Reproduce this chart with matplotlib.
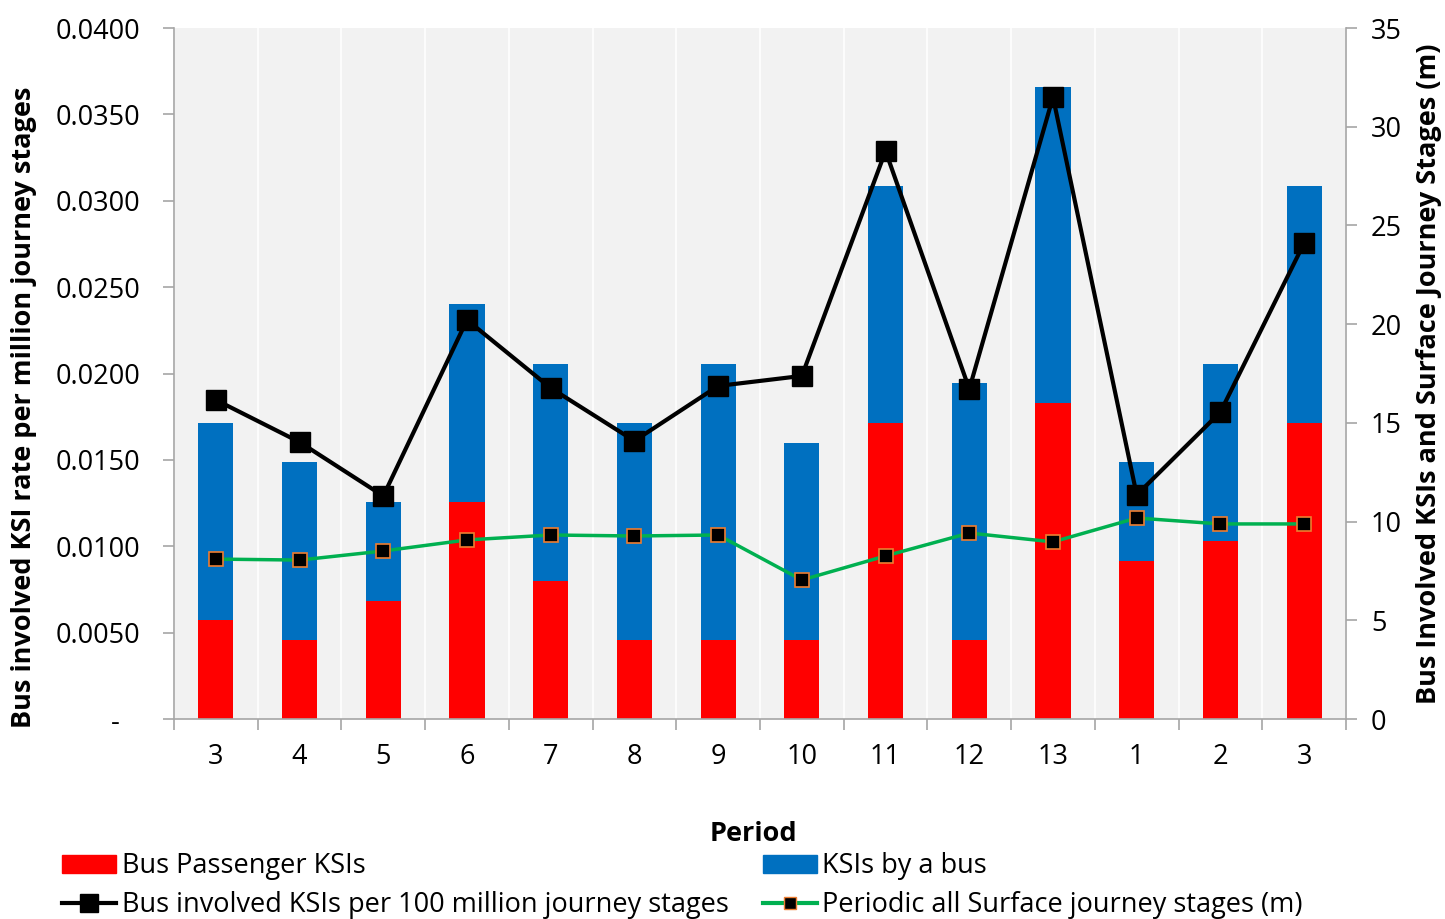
import matplotlib
matplotlib.use("Agg")
import matplotlib.pyplot as plt
import numpy as np
from matplotlib.ticker import FixedLocator, FuncFormatter
from matplotlib.lines import Line2D
from matplotlib.patches import Patch

plt.rcParams['font.family'] = ['Open Sans', 'DejaVu Sans']

periods = ['3', '4', '5', '6', '7', '8', '9', '10', '11', '12', '13', '1', '2', '3']
bus_passenger = [5, 4, 6, 11, 7, 4, 4, 4, 15, 4, 16, 8, 9, 15]
ksis_by_bus = [10, 9, 5, 10, 11, 11, 14, 10, 12, 13, 16, 5, 9, 12]
rate = [0.01847, 0.01603, 0.01291, 0.0231, 0.01916, 0.0161, 0.01928, 0.01986,
        0.03288, 0.0191, 0.0360, 0.01297, 0.01777, 0.02755]
journeys = [8.1, 8.05, 8.51, 9.07, 9.32, 9.27, 9.32, 7.04, 8.26, 9.42, 8.97,
            10.18, 9.88, 9.88]

RED = '#FF0000'
BLUE = '#0070C0'
GREEN = '#00B050'
ORANGE = '#ED7D31'
SPINE = '#A6A6A6'
FS = 19.5

fig = plt.figure(figsize=(14.45, 9.19), dpi=100)
ax = fig.add_axes([174/1445, 1 - 719/919, (1346 - 174)/1445, (719 - 28)/919])
ax.set_facecolor('#F2F2F2')
ax2 = ax.twinx()

x = np.arange(len(periods))
w = 0.42
ax.bar(x, bus_passenger, w, color=RED, zorder=2)
ax.bar(x, ksis_by_bus, w, bottom=bus_passenger, color=BLUE, zorder=2)
ax.plot(x, journeys, color=GREEN, lw=2.5, marker='s', ms=9.5,
        mfc='black', mec=ORANGE, mew=1.2, zorder=4)
ax.set_ylim(0, 35)
ax.set_xlim(-0.5, len(periods) - 0.5)
ax.yaxis.tick_right()
ax.yaxis.set_label_position('right')
ax.set_yticks(np.arange(0, 36, 5))
ax.set_ylabel('Bus Involved KSIs and Surface Journey Stages (m)', fontsize=FS,
              fontweight='bold', labelpad=10)

# x ticks: boundaries as major ticks (gridlines), labels at centers
ax.xaxis.set_major_locator(FixedLocator(np.arange(-0.5, len(periods), 1.0)))
ax.xaxis.set_major_formatter(FuncFormatter(lambda v, p: ''))
ax.xaxis.set_minor_locator(FixedLocator(x))
ax.set_xticklabels(periods, minor=True)
ax.tick_params(axis='x', which='major', length=8, color=SPINE, width=1.2)
ax.tick_params(axis='x', which='minor', length=0, labelsize=FS, pad=17)
ax.grid(axis='x', which='major', color='white', lw=1.2, zorder=0)
ax.set_axisbelow(True)
ax.tick_params(axis='y', labelsize=FS, length=8, color=SPINE, width=1.2, pad=10)
ax.set_xlabel('Period', fontsize=FS, fontweight='bold', labelpad=36)
ax.xaxis.label.set_x((753 - 174) / 1172)

ax2.yaxis.tick_left()
ax2.yaxis.set_label_position('left')
ax2.plot(x, rate, color='black', lw=3, marker='s', ms=14, mfc='black',
         mec='black', zorder=5)
ax2.set_ylim(0, 0.04)
ax2.set_yticks(np.arange(0, 0.0401, 0.005))
ax2.yaxis.set_major_formatter(FuncFormatter(lambda v, p: '-   ' if abs(v) < 1e-9 else f'{v:.4f}'))
ax2.tick_params(axis='y', labelsize=FS, length=8, color=SPINE, width=1.2, pad=16)
ax2.set_ylabel('Bus involved KSI rate per million journey stages', fontsize=FS,
               fontweight='bold')
ax2.yaxis.set_label_coords((37 - 174) / 1172, (719 - 407) / 691)

for a in (ax, ax2):
    for s in a.spines.values():
        s.set_visible(False)
for side in ('left', 'right', 'bottom'):
    ax2.spines[side].set_visible(True)
    ax2.spines[side].set_color(SPINE)
    ax2.spines[side].set_linewidth(1.2)

handles = [
    Patch(color=RED),
    Line2D([], [], color='black', lw=3, marker='s', ms=13, mfc='black'),
    Patch(color=BLUE),
    Line2D([], [], color=GREEN, lw=3, marker='s', ms=9, mfc='black', mec=ORANGE),
]
labels = ['Bus Passenger KSIs',
          'Bus involved KSIs per 100 million journey stages',
          'KSIs by a bus',
          'Periodic all Surface journey stages (m)']
fig.legend(handles, labels, ncol=2, loc='lower left',
           bbox_to_anchor=(46/1445, -0.018), frameon=False, fontsize=FS,
           handlelength=2.0, handletextpad=0.2, columnspacing=1.25,
           labelspacing=0.4, borderpad=0.1)

fig.savefig('out.png', dpi=100)
